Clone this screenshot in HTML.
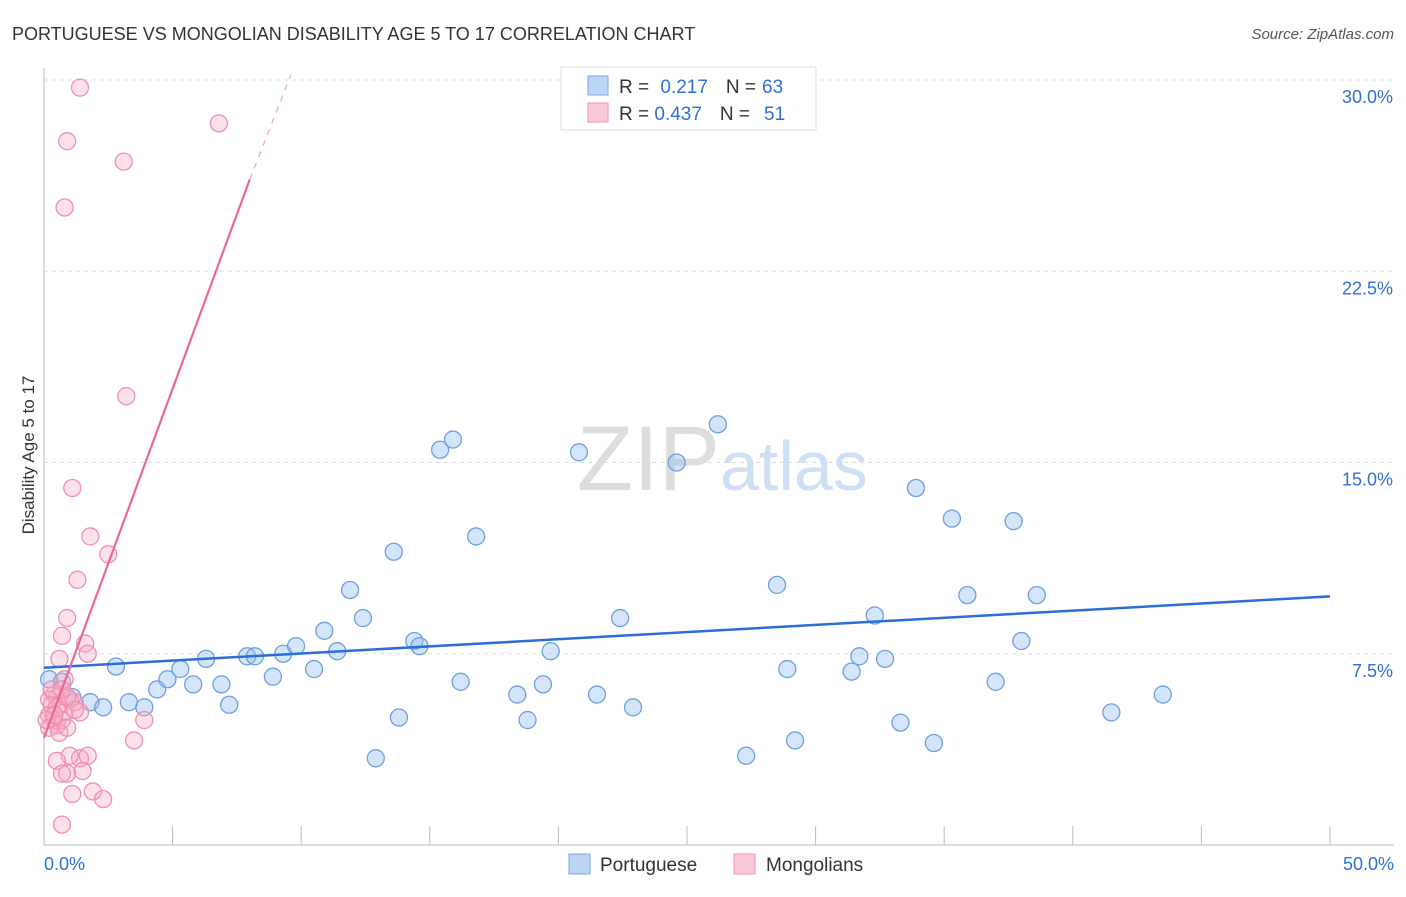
<!DOCTYPE html>
<html><head><meta charset="utf-8"><style>
body{margin:0;background:#fff;font-family:"Liberation Sans",sans-serif;}
svg text{font-family:"Liberation Sans",sans-serif;}
</style></head><body>
<svg width="1406" height="892">
<text x="12" y="40" font-size="18" fill="#333">PORTUGUESE VS MONGOLIAN DISABILITY AGE 5 TO 17 CORRELATION CHART</text>
<text x="1394" y="39" font-size="15" fill="#555" font-style="italic" text-anchor="end">Source: ZipAtlas.com</text>
<g id="grid"></g>
<text x="720" y="490" font-size="92" fill="#ddd" text-anchor="end" font-family="Liberation Serif">ZIP</text>
<text x="720" y="490" font-size="70" fill="#cfe0f5">atlas</text>
<text transform="translate(34,455) rotate(-90)" font-size="17" fill="#333" text-anchor="middle">Disability Age 5 to 17</text>
<g id="pts"></g>
<g id="lines"></g>
<g>
<rect x="561" y="67" width="255" height="63" fill="#fff" stroke="#ddd"/>
<rect x="588" y="76" width="20" height="19" fill="#bdd5f5" stroke="#7aa6e0"/>
<rect x="588" y="103" width="20" height="19" fill="#fbcad8" stroke="#ef93b1"/>
<text x="619" y="93" font-size="19" fill="#333">R = <tspan fill="#2f6fd6" dx="6">0.217</tspan><tspan fill="#333" dx="18">N =</tspan><tspan fill="#2f6fd6" dx="6">63</tspan></text>
<text x="619" y="120" font-size="19" fill="#333">R = <tspan fill="#2f6fd6">0.437</tspan><tspan fill="#333" dx="18">N =</tspan><tspan fill="#2f6fd6" dx="14">51</tspan></text>
</g>
<g>
<rect x="569" y="854" width="21" height="20" fill="#bdd5f5" stroke="#7aa6e0"/>
<text x="600" y="871" font-size="19" fill="#333">Portuguese</text>
<rect x="734" y="854" width="21" height="20" fill="#fbcad8" stroke="#ef93b1"/>
<text x="766" y="871" font-size="19" fill="#333">Mongolians</text>
</g>
</svg>
<script>
const xTicks=[0,5,10,15,20,25,30,35,40,45,50];
const yTicks=[7.5,15,22.5,30];
const portX=[0.2,0.7,1.1,1.8,2.3,2.8,3.3,3.9,4.4,4.8,5.3,5.8,6.3,6.9,7.2,7.9,8.2,8.9,9.3,9.8,10.5,10.9,11.4,11.9,12.4,12.9,13.6,13.8,14.4,14.6,15.4,15.9,16.2,16.8,18.4,18.8,19.4,19.7,20.8,21.5,22.4,22.9,24.6,26.2,27.3,28.5,28.9,29.2,31.4,31.7,32.3,32.7,33.3,33.9,34.6,35.3,35.9,37.0,37.7,38.0,38.6,41.5,43.5];
const portY=[6.5,6.4,5.8,5.6,5.4,7.0,5.6,5.4,6.1,6.5,6.9,6.3,7.3,6.3,5.5,7.4,7.4,6.6,7.5,7.8,6.9,8.4,7.6,10.0,8.9,3.4,11.5,5.0,8.0,7.8,15.5,15.9,6.4,12.1,5.9,4.9,6.3,7.6,15.4,5.9,8.9,5.4,15.0,16.5,3.5,10.2,6.9,4.1,6.8,7.4,9.0,7.3,4.8,14.0,4.0,12.8,9.8,6.4,12.7,8.0,9.8,5.2,5.9];
const mongX=[1.4,6.8,0.9,3.1,0.8,3.2,1.1,1.8,2.5,1.3,0.9,0.7,1.6,1.7,0.6,0.8,0.4,0.5,1.0,0.8,1.4,1.2,0.3,0.2,0.4,0.5,0.2,0.7,0.6,0.9,3.9,3.5,1.4,1.0,1.7,0.5,0.9,1.5,0.7,1.9,1.1,2.3,0.7,0.2,0.3,0.5,0.9,0.1,0.4,0.7,1.2];
const mongY=[29.7,28.3,27.6,26.8,25.0,17.6,14.0,12.1,11.4,10.4,8.9,8.2,7.9,7.5,7.3,6.5,5.9,5.8,5.7,5.2,5.2,5.6,5.5,5.1,4.9,4.7,4.6,4.9,4.4,4.6,4.9,4.1,3.4,3.5,3.5,3.3,2.8,2.9,2.8,2.1,2.0,1.8,0.8,5.7,6.1,5.4,5.8,4.9,5.1,6.1,5.3];
const portLine=[[0,6.95],[50,9.75]];
const mongLine=[[0,4.2],[8,26.1]];
const mongDash=[[8,26.1],[9.6,30.2]];
const X=v=>44+v/50*1286, Y=v=>845-v/30*765;
const NS='http://www.w3.org/2000/svg';
function mk(t,a,p){const e=document.createElementNS(NS,t);for(const k in a)e.setAttribute(k,a[k]);p.appendChild(e);return e;}
const grid=document.getElementById('grid');
mk('line',{x1:44,y1:68,x2:44,y2:845,stroke:'#bbb'},grid);
mk('line',{x1:44,y1:845,x2:1394,y2:845,stroke:'#bbb'},grid);
yTicks.forEach(t=>{
 const g=mk('line',{x1:44,y1:Y(t),x2:1394,y2:Y(t),stroke:'#ddd','stroke-dasharray':'4,4'},grid);
 
 
 const tx=mk('text',{x:1393,y:Y(t)+23,'font-size':18,fill:'#2f6fd6','text-anchor':'end'},grid);
 tx.textContent=t.toFixed(1)+'%';
 
 
});
xTicks.forEach(t=>{
 const l=mk('line',{x1:X(t),y1:826,x2:X(t),y2:845,stroke:'#bbb'},grid);
 
 
});
[[0,'start',44],[50,'end',1394]].forEach(([t,a,x])=>{
 const tx=mk('text',{x:x,y:870,'font-size':18,fill:'#2f6fd6','text-anchor':a},grid);
 tx.textContent=t.toFixed(1)+'%';
 
 
});
const pts=document.getElementById('pts');
portX.forEach((v,i)=>{
 const c=mk('circle',{cx:X(v),cy:Y(portY[i]),r:8.5,fill:'rgba(150,190,240,0.4)',stroke:'#6f9fe0','stroke-width':1.3},pts);
 
 
});
mongX.forEach((v,i)=>{
 const c=mk('circle',{cx:X(v),cy:Y(mongY[i]),r:8.5,fill:'rgba(248,170,195,0.35)',stroke:'#ef8fb0','stroke-width':1.3},pts);
 
 
});
const lines=document.getElementById('lines');
const pl=mk('line',{x1:X(portLine[0][0]),y1:Y(portLine[0][1]),x2:X(portLine[1][0]),y2:Y(portLine[1][1]),stroke:'#2a6fd6','stroke-width':2.5},lines);


const ml=mk('line',{x1:X(mongLine[0][0]),y1:Y(mongLine[0][1]),x2:X(mongLine[1][0]),y2:Y(mongLine[1][1]),stroke:'#e8679a','stroke-width':2.2},lines);


const md=mk('line',{x1:X(mongDash[0][0]),y1:Y(mongDash[0][1]),x2:X(mongDash[1][0]),y2:Y(mongDash[1][1]),stroke:'#eea0bd','stroke-width':1.2,'stroke-dasharray':'6,6'},lines);


</script>
</body></html>
